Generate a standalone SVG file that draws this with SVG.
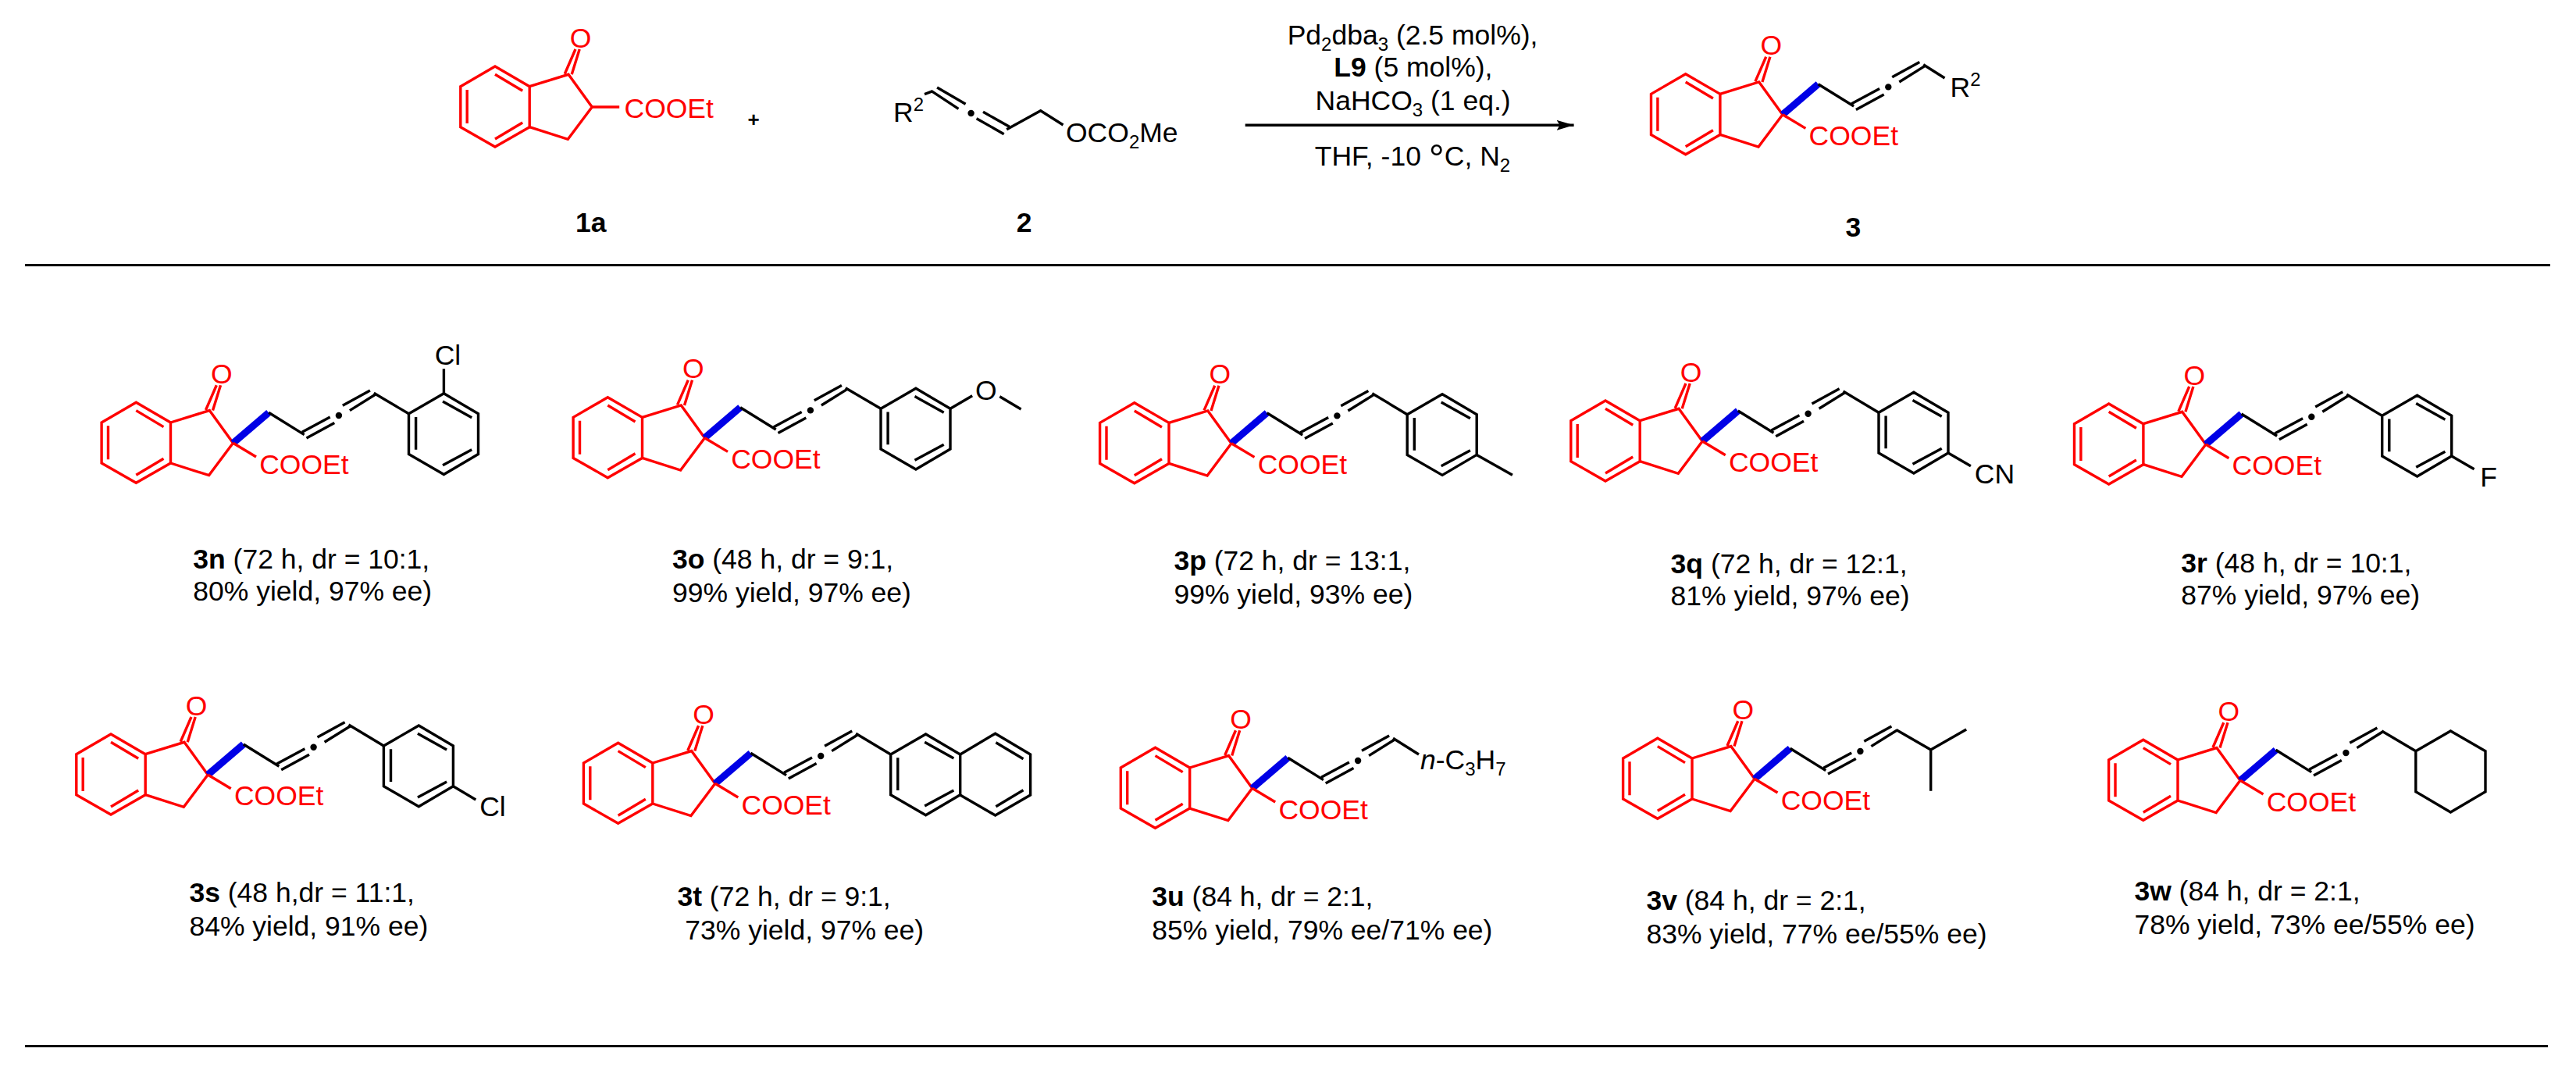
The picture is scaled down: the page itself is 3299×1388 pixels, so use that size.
<svg xmlns="http://www.w3.org/2000/svg" xmlns:xlink="http://www.w3.org/1999/xlink" width="3299" height="1388" viewBox="0 0 3299 1388">
<style>
text{font-family:"Liberation Sans",Arial,sans-serif;font-size:35.5px;fill:#000}
text.r{fill:#f00}
.bd{font-weight:bold}
.it{font-style:italic}
.s{font-size:24px}
.rb{fill:none;stroke:#f00;stroke-width:3.4;stroke-linejoin:miter}
.kb{fill:none;stroke:#000;stroke-width:3.4;stroke-linejoin:miter}
.wb{fill:none;stroke:#0000e6;stroke-width:9}
.rule{stroke:#000;stroke-width:3}
</style>
<defs>
<g id="indanone">
<path class="rb" d="M-124.2 -52L-168.4 -26.3V25.7L-124.2 51L-80 25.7V-26.3Z"/>
<path class="rb" d="M-160 -22V21M-124.2 -41.7L-89 -20.7M-124.2 41L-89 20"/>
<path class="rb" d="M-80 -26.3L-30.2 -41.7L0 0L-30.9 41.3L-80 25.7"/>
<path class="rb" d="M-35 -42.3L-21.2 -74M-26 -41.7L-16 -74"/>
</g>
<g id="allene">
<path class="wb" d="M0 0L45.6 -39"/>
<path class="rb" d="M0 0L29.5 17.7"/>
<path class="kb" d="M45.6 -39L91.2 -10.7M88.4 -14L124.2 -33.3M94 -6.3L129.8 -25.7M140.3 -48L175.4 -67.3M149.4 -41.7L182.4 -62.3"/>
<circle cx="135.4" cy="-35.3" r="4.2" fill="#000"/>
</g>
<g id="aryl">
<path class="kb" d="M0 0L44.9 -26L89 0V51.7L44.9 77.7L0 51.7Z"/>
<path class="kb" d="M9.1 4.3V46M43.5 -15.7L80.7 5M43.5 66L80.7 46"/>
</g>
<marker id="head" markerUnits="userSpaceOnUse" markerWidth="24" markerHeight="14" refX="22" refY="6.5" orient="auto">
<path d="M0 0L22 6.5L0 13L4 6.5Z" fill="#000"/>
</marker>
</defs>

<g id="rules">
<line class="rule" x1="32" y1="339.5" x2="3266" y2="339.5"/>
<line class="rule" x1="32" y1="1339.5" x2="3263" y2="1339.5"/>
</g>

<g id="connectors">
<line x1="1594.7" y1="160.3" x2="2015.6" y2="160.3" stroke="#000" stroke-width="3.4" marker-end="url(#head)"/>
</g>

<g id="conditions">
<text x="1648.7" y="56.7">Pd<tspan class="s" dy="8">2</tspan><tspan dy="-8">dba</tspan><tspan class="s" dy="8">3</tspan><tspan dy="-8"> (2.5 mol%),</tspan></text>
<text x="1708.3" y="98.3"><tspan class="bd">L9</tspan> (5 mol%),</text>
<text x="1684.5" y="141">NaHCO<tspan class="s" dy="8">3</tspan><tspan dy="-8"> (1 eq.)</tspan></text>
<text x="1683.8" y="212.3">THF, -10 <tspan style="font-size:50px" dy="8">°</tspan><tspan dy="-8">C, N</tspan><tspan class="s" dy="8">2</tspan></text>
</g>

<g id="n-1a">
<use xlink:href="#indanone" href="#indanone" x="758.2" y="137"/>
<line x1="758.2" y1="137" x2="793.2" y2="137" stroke="#f00" stroke-width="3.4"/>
<text class="r" x="743.5" y="60.7" text-anchor="middle">O</text>
<text class="r" x="799.5" y="151">COOEt</text>
<text class="bd" x="756.8" y="297.3" text-anchor="middle">1a</text>
</g>

<g id="plus">
<text class="bd" x="965" y="162" text-anchor="middle" style="font-size:26px">+</text>
</g>

<g id="n-2">
<path class="kb" d="M1184 120.7L1194.5 116.7M1200.1 112L1236.6 133.3M1193 116.7L1227.5 139.3M1259 143.3L1292.7 162.3M1250.6 151.7L1285.7 171.7M1289.2 165.7L1332.7 141.7L1361.5 160"/>
<circle cx="1243.6" cy="145" r="4.2" fill="#000"/>
<text x="1144" y="156">R<tspan class="s" dy="-14">2</tspan></text>
<text x="1365" y="181.7">OCO<tspan class="s" dy="8">2</tspan><tspan dy="-8">Me</tspan></text>
<text class="bd" x="1311.6" y="297.3" text-anchor="middle">2</text>
</g>

<g id="n-3">
<use xlink:href="#indanone" href="#indanone" x="2282.9" y="146.7"/>
<use xlink:href="#allene" href="#allene" x="2282.9" y="146.7"/>
<path class="kb" d="M2463.2 82.7L2490.5 100"/>
<text class="r" x="2268.2" y="70.4" text-anchor="middle">O</text>
<text class="r" x="2316.6" y="186">COOEt</text>
<text x="2497.6" y="124">R<tspan class="s" dy="-14">2</tspan></text>
<text class="bd" x="2373.4" y="302.7" text-anchor="middle">3</text>
</g>

<g id="n-3n">
<use xlink:href="#indanone" href="#indanone" x="298.5" y="567.3"/>
<use xlink:href="#allene" href="#allene" x="298.5" y="567.3"/>
<path class="kb" d="M478.8 503.3L523.5 529.8"/>
<use xlink:href="#aryl" href="#aryl" x="523.5" y="529.8"/>
<path class="kb" d="M568.4 503.8V472.3"/>
<text class="r" x="283.8" y="491" text-anchor="middle">O</text>
<text class="r" x="332.2" y="606.6">COOEt</text>
<text x="556.7" y="466.7">Cl</text>
<text x="247.3" y="727.7"><tspan class="bd">3n</tspan> (72 h, dr = 10:1,</text>
<text x="247.3" y="769.3">80% yield, 97% ee)</text>
</g>

<g id="n-3o">
<use xlink:href="#indanone" href="#indanone" x="902.5" y="560.7"/>
<use xlink:href="#allene" href="#allene" x="902.5" y="560.7"/>
<path class="kb" d="M1082.8 496.7L1128 523.3"/>
<use xlink:href="#aryl" href="#aryl" x="1128" y="523.3"/>
<path class="kb" d="M1217 523.3L1245.2 506.7M1280.3 507.7L1307.6 524"/>
<text class="r" x="887.8" y="484.4" text-anchor="middle">O</text>
<text class="r" x="936.2" y="600">COOEt</text>
<text x="1262.8" y="511.7" text-anchor="middle">O</text>
<text x="861" y="728.3"><tspan class="bd">3o</tspan> (48 h, dr = 9:1,</text>
<text x="861" y="771">99% yield, 97% ee)</text>
</g>

<g id="n-3p">
<use xlink:href="#indanone" href="#indanone" x="1577" y="567.7"/>
<use xlink:href="#allene" href="#allene" x="1577" y="567.7"/>
<path class="kb" d="M1757.3 503.7L1802.2 530.7"/>
<use xlink:href="#aryl" href="#aryl" x="1802.2" y="530.7"/>
<path class="kb" d="M1891.2 582.4L1936.9 608.3"/>
<text class="r" x="1562.3" y="491.4" text-anchor="middle">O</text>
<text class="r" x="1610.7" y="607">COOEt</text>
<text x="1503.4" y="730"><tspan class="bd">3p</tspan> (72 h, dr = 13:1,</text>
<text x="1503.4" y="772.7">99% yield, 93% ee)</text>
</g>

<g id="n-3q">
<use xlink:href="#indanone" href="#indanone" x="2180.2" y="565"/>
<use xlink:href="#allene" href="#allene" x="2180.2" y="565"/>
<path class="kb" d="M2360.5 501L2406 528.3"/>
<use xlink:href="#aryl" href="#aryl" x="2406" y="528.3"/>
<path class="kb" d="M2495 580L2523.9 596.7"/>
<text class="r" x="2165.5" y="488.7" text-anchor="middle">O</text>
<text class="r" x="2213.9" y="604.3">COOEt</text>
<text x="2528.8" y="619.3">CN</text>
<text x="2139.6" y="734.3"><tspan class="bd">3q</tspan> (72 h, dr = 12:1,</text>
<text x="2139.6" y="775">81% yield, 97% ee)</text>
</g>

<g id="n-3r">
<use xlink:href="#indanone" href="#indanone" x="2824.9" y="569"/>
<use xlink:href="#allene" href="#allene" x="2824.9" y="569"/>
<path class="kb" d="M3005.2 505L3050.7 532.3"/>
<use xlink:href="#aryl" href="#aryl" x="3050.7" y="532.3"/>
<path class="kb" d="M3139.7 584L3168.6 600.7"/>
<text class="r" x="2810.2" y="492.7" text-anchor="middle">O</text>
<text class="r" x="2858.6" y="608.3">COOEt</text>
<text x="3176.3" y="623.3">F</text>
<text x="2793.3" y="733.3"><tspan class="bd">3r</tspan> (48 h, dr = 10:1,</text>
<text x="2793.3" y="774.3">87% yield, 97% ee)</text>
</g>

<g id="n-3s">
<use xlink:href="#indanone" href="#indanone" x="266.2" y="992"/>
<use xlink:href="#allene" href="#allene" x="266.2" y="992"/>
<path class="kb" d="M446.5 928L491.4 955"/>
<use xlink:href="#aryl" href="#aryl" x="491.4" y="955"/>
<path class="kb" d="M580.4 1006.7L609.3 1024"/>
<text class="r" x="251.5" y="915.7" text-anchor="middle">O</text>
<text class="r" x="299.9" y="1031.3">COOEt</text>
<text x="614.2" y="1045">Cl</text>
<text x="242.4" y="1155"><tspan class="bd">3s</tspan> (48 h,dr = 11:1,</text>
<text x="242.4" y="1197.7">84% yield, 91% ee)</text>
</g>

<g id="n-3t">
<use xlink:href="#indanone" href="#indanone" x="915.8" y="1003.3"/>
<use xlink:href="#allene" href="#allene" x="915.8" y="1003.3"/>
<path class="kb" d="M1096.1 939.3L1140.7 966"/>
<use xlink:href="#aryl" href="#aryl" x="1140.7" y="966"/>
<g transform="translate(1140.7 966)">
<path class="kb" d="M89 0L133.9 -26.7L178.9 0V52L133.9 78L89 52M134.7 -15.3L169.8 5.7M134.7 66.7L169.8 45.7"/>
</g>
<text class="r" x="901.1" y="927" text-anchor="middle">O</text>
<text class="r" x="949.5" y="1042.6">COOEt</text>
<text x="867.4" y="1160"><tspan class="bd">3t</tspan> (72 h, dr = 9:1,</text>
<text x="877.3" y="1203.3">73% yield, 97% ee)</text>
</g>

<g id="n-3u">
<use xlink:href="#indanone" href="#indanone" x="1603.7" y="1009.3"/>
<use xlink:href="#allene" href="#allene" x="1603.7" y="1009.3"/>
<path class="kb" d="M1784 945.3L1817 966"/>
<text class="r" x="1589" y="933" text-anchor="middle">O</text>
<text class="r" x="1637.4" y="1048.6">COOEt</text>
<text x="1819" y="985"><tspan class="it">n</tspan>-C<tspan class="s" dy="8">3</tspan><tspan dy="-8">H</tspan><tspan class="s" dy="8">7</tspan></text>
<text x="1475.3" y="1160"><tspan class="bd">3u</tspan> (84 h, dr = 2:1,</text>
<text x="1475.3" y="1202.7">85% yield, 79% ee/71% ee)</text>
</g>

<g id="n-3v">
<use xlink:href="#indanone" href="#indanone" x="2247" y="997.3"/>
<use xlink:href="#allene" href="#allene" x="2247" y="997.3"/>
<path class="kb" d="M2428.5 934.5L2472.7 960L2518.2 934M2472.7 960V1012.7"/>
<text class="r" x="2232.3" y="921" text-anchor="middle">O</text>
<text class="r" x="2280.7" y="1036.6">COOEt</text>
<text x="2108.4" y="1165"><tspan class="bd">3v</tspan> (84 h, dr = 2:1,</text>
<text x="2108.4" y="1207.7">83% yield, 77% ee/55% ee)</text>
</g>

<g id="n-3w">
<use xlink:href="#indanone" href="#indanone" x="2869" y="999.3"/>
<use xlink:href="#allene" href="#allene" x="2869" y="999.3"/>
<path class="kb" d="M3050.3 936L3093.8 961.7L3138.4 936L3183 961.7V1013.7L3138.4 1040L3093.8 1013.7V961.7"/>
<text class="r" x="2854.3" y="923" text-anchor="middle">O</text>
<text class="r" x="2902.7" y="1038.6">COOEt</text>
<text x="2733.4" y="1153.3"><tspan class="bd">3w</tspan> (84 h, dr = 2:1,</text>
<text x="2733.4" y="1196">78% yield, 73% ee/55% ee)</text>
</g>
</svg>
